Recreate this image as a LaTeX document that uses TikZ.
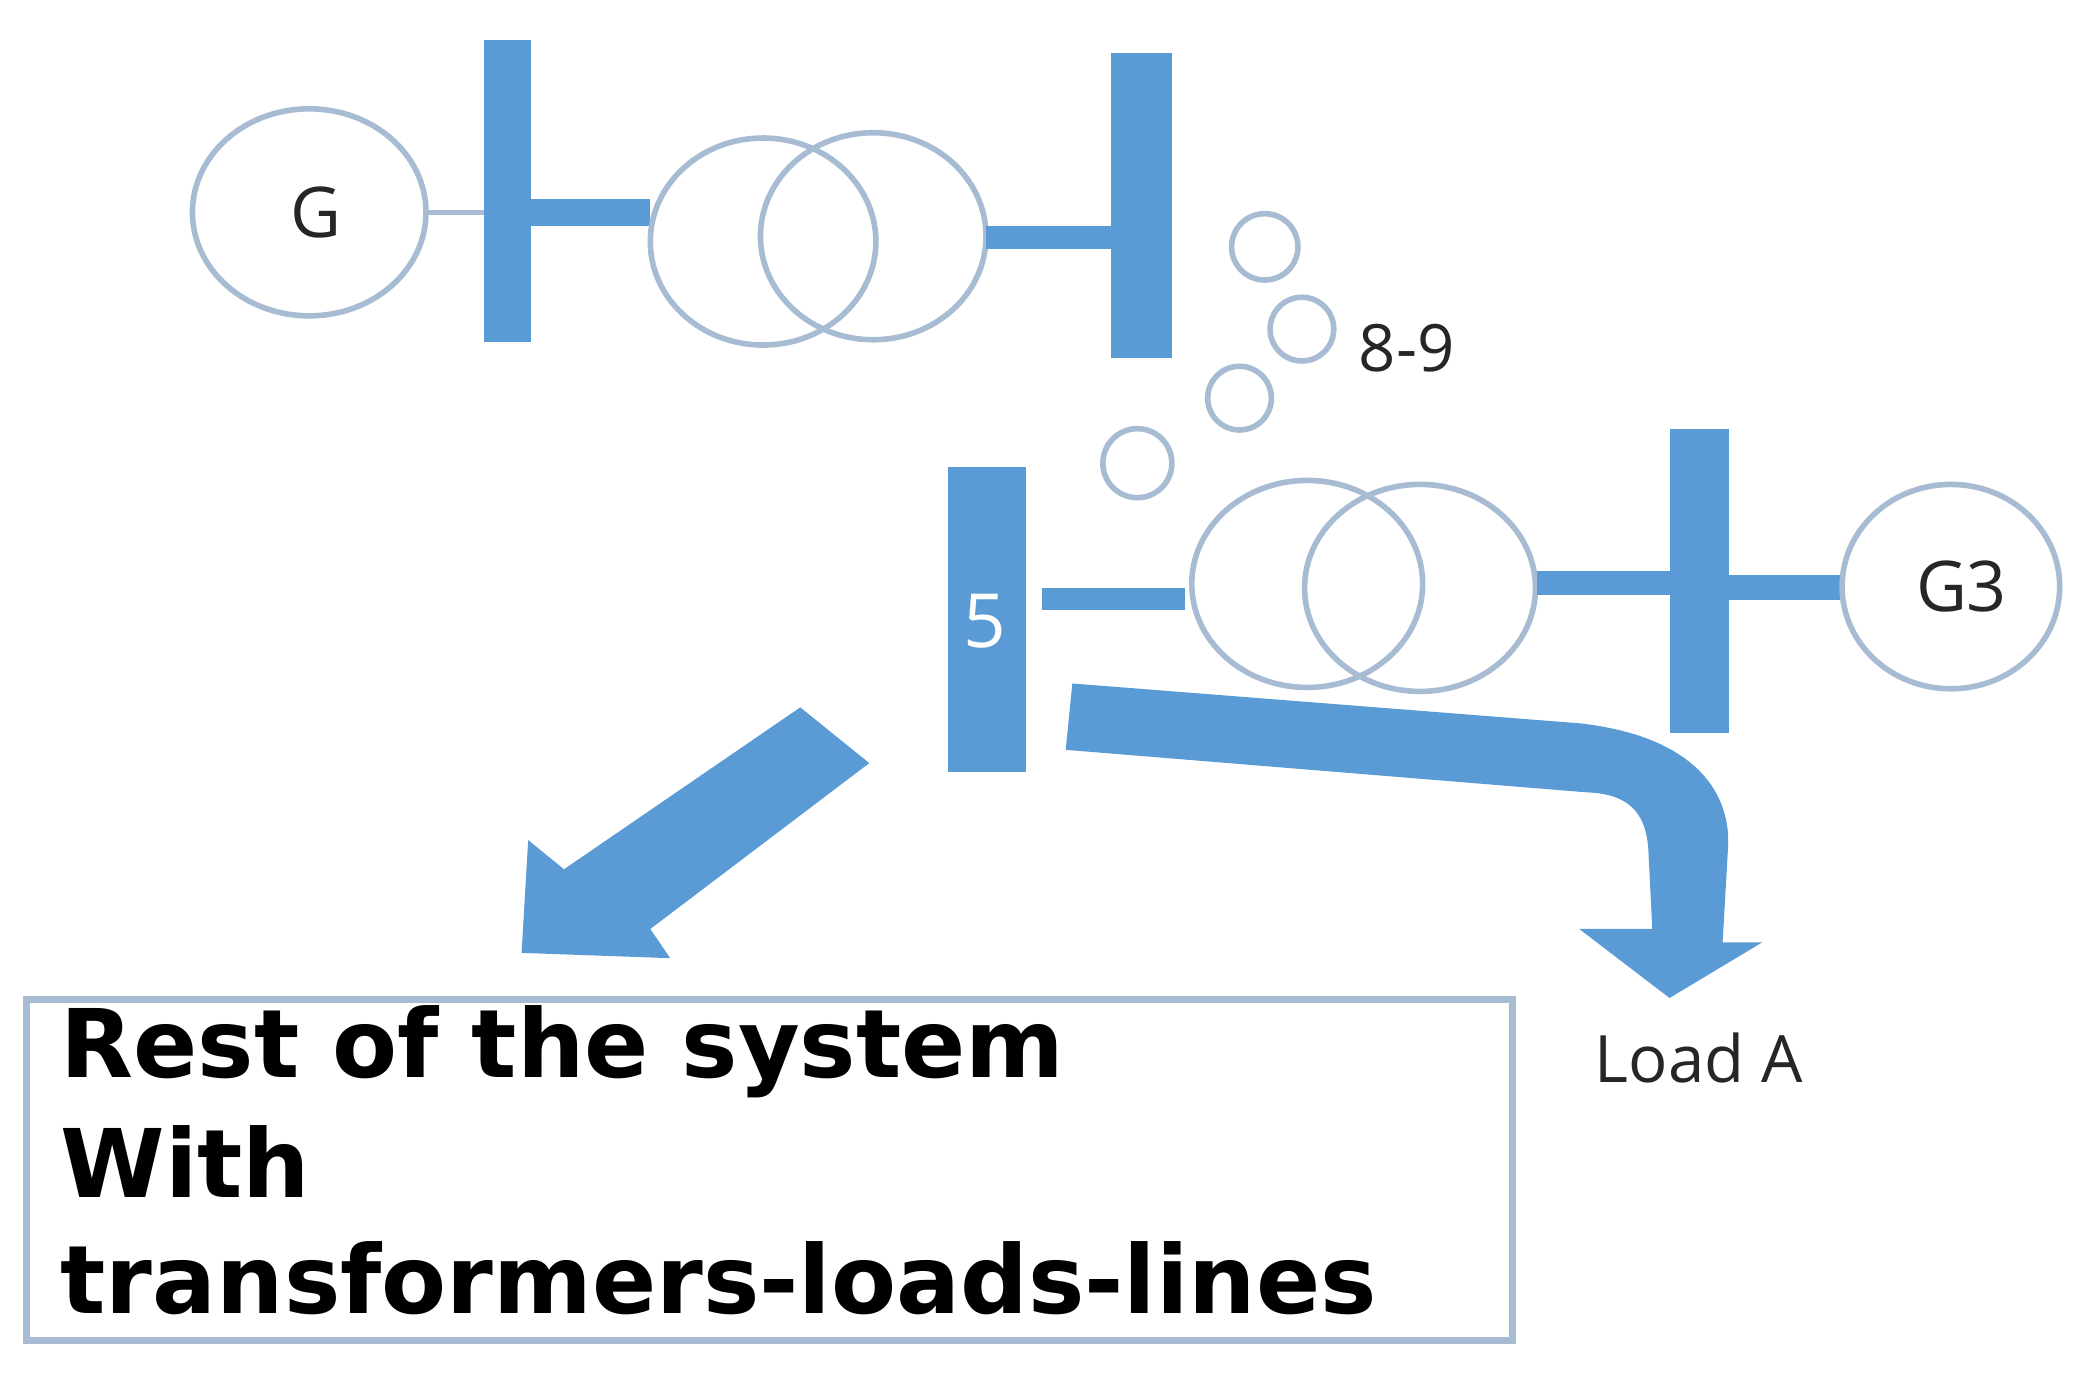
\documentclass[tikz,border=0pt]{standalone}
\usepackage{fontspec}
\setmainfont{Open Sans}
\newfontfamily\boxfont{DejaVu Sans}
\definecolor{bb}{HTML}{5B9BD5}
\definecolor{cs}{HTML}{A7BBD2}
\begin{document}
\begin{tikzpicture}[x=0.01cm,y=-0.01cm,
  bus/.style={fill=bb,draw=none},
  ring/.style={draw=cs,line width=1.2pt},
  lbl/.style={font=\fontsize{15}{18}\selectfont,text=black!85},
  bt/.style={anchor=base west,inner sep=0pt,font=\boxfont\bfseries\fontsize{20.3}{24}\selectfont}]
\useasboundingbox (0,0) rectangle (1562,1040);
% generator G
\draw[ring] (233,160) ellipse (88 and 78);
\node[lbl] (g) at (238,160) {G};
\draw[cs,line width=1pt] (320,160) -- (383,160);
\fill[bus] (365,30) rectangle (400,258);
\fill[bus] (383,150) rectangle (490,170);
\draw[ring] (575,182) ellipse (85 and 78);
\draw[ring] (658,178) ellipse (85 and 78);
\fill[bus] (743,170) rectangle (850,188);
\fill[bus] (837,40) rectangle (883,270);
% small circles
\draw[ring] (953,186) circle (25);
\draw[ring] (981,248) circle (24);
\draw[ring] (934,300) circle (24);
\draw[ring] (857,349) circle (26);
\node[lbl,font=\fontsize{14}{16}\selectfont] (n89) at (1060,262) {8-9};
% bus 5
\fill[bus] (714,352) rectangle (773,582);
\node[text=white,font=\fontsize{16}{18}\selectfont] (b5) at (742,468) {5};
\fill[bus] (785,443) rectangle (893,460);
\draw[ring] (985,440) ellipse (87 and 78);
\draw[ring] (1070,443) ellipse (87 and 78);
\fill[bus] (1158,430) rectangle (1270,448);
\fill[bus] (1258,323) rectangle (1303,552);
\fill[bus] (1290,433) rectangle (1388,452);
\draw[ring] (1470,442) ellipse (82 and 77);
\node[lbl] (g3) at (1478,442) {G3};
% arrows
\fill[bb] (603,533) -- (655,575) -- (490,700) -- (505,722) -- (393,718) -- (398,633) -- (425,655) -- cycle;
\fill[bb] (808,515) -- (1190,545) .. controls (1280,555) and (1305,600) .. (1302,640) -- (1298,710) -- (1328,710) -- (1258,752) -- (1190,700) -- (1245,700) -- (1242,640) .. controls (1240,610) and (1225,598) .. (1195,597) -- (803,565) -- cycle;
% box
\draw[cs,line width=1.5pt] (20,753) rectangle (1140,1010);
\node[bt] (r1) at (45,812) {Rest of the system};
\node[bt] (r2) at (45,902) {With};
\node[bt] (r3) at (45,990) {transformers-loads-lines};
\node[lbl,font=\fontsize{14}{16}\selectfont] (load) at (1280,797) {Load A};
\end{tikzpicture}
\end{document}
